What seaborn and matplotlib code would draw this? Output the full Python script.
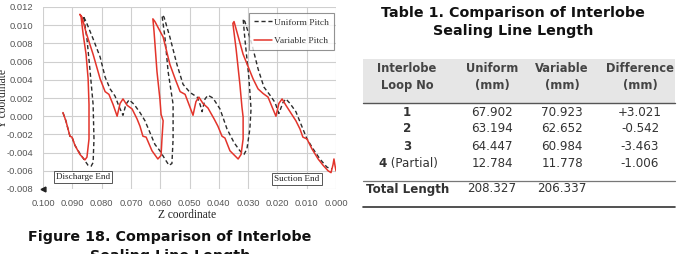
import numpy as np
import pandas as pd
import matplotlib
matplotlib.use("Agg")
import matplotlib.pyplot as plt
import seaborn as sns
from matplotlib.patches import Rectangle
from matplotlib.lines import Line2D

# ---------------- data ----------------
variable_z = [0.0932,0.0922,0.0908,0.0901,0.0891,0.0874,0.0857,0.0850,0.0843,0.0843,
              0.0846,0.0853,0.0863,0.0870,0.0874,0.0867,0.0853,0.0829,0.0805,0.0788,
              0.0775,0.0761,0.0747,0.0737,0.0727,0.0713,0.0696,0.0679,0.0669,
              0.0659,0.0648,0.0628,0.0608,0.0597,0.0594,0.0590,0.0597,0.0601,0.0611,
              0.0621,0.0625,0.0618,0.0590,0.0567,0.0549,0.0532,0.0515,0.0502,0.0488,
              0.0478,0.0468,0.0454,0.0437,0.0416,0.0403,
              0.0389,0.0379,0.0362,0.0334,0.0324,0.0317,0.0317,0.0321,0.0328,0.0341,
              0.0352,0.0348,0.0317,0.0283,0.0266,0.0249,0.0232,0.0218,0.0205,0.0195,
              0.0184,0.0171,0.0157,0.0137,0.0123,0.0113,0.0099,0.0082,0.0061,0.0044,
              0.0027,0.0017,0.0010,0.0007,0.0003,0.0000]
variable_y = [0.0004,-0.0005,-0.0022,-0.0023,-0.0032,-0.0042,-0.0048,-0.0045,-0.0025,0.0013,
              0.0041,0.0068,0.0090,0.0109,0.0112,0.0109,0.0092,0.0068,0.0041,0.0027,
              0.0024,0.0013,0.0000,0.0014,0.0019,0.0012,0.0008,-0.0003,-0.0011,
              -0.0022,-0.0023,-0.0038,-0.0047,-0.0043,-0.0025,-0.0005,0.0002,0.0019,0.0049,
              0.0093,0.0107,0.0104,0.0087,0.0057,0.0041,0.0027,0.0024,0.0013,0.0001,
              0.0016,0.0021,0.0014,0.0009,-0.0003,-0.0011,
              -0.0022,-0.0024,-0.0038,-0.0047,-0.0042,-0.0025,-0.0001,0.0010,0.0035,0.0074,
              0.0102,0.0104,0.0068,0.0041,0.0030,0.0025,0.0021,0.0010,0.0000,0.0014,
              0.0019,0.0012,0.0005,-0.0005,-0.0014,-0.0023,-0.0025,-0.0036,-0.0047,-0.0054,
              -0.0060,-0.0062,-0.0053,-0.0047,-0.0055,-0.0060]

uniform_z = [0.0932,0.0922,0.0908,0.0901,0.0891,0.0874,0.0857,0.0846,0.0836,0.0829,
             0.0826,0.0829,0.0840,0.0850,0.0860,0.0863,0.0853,0.0829,0.0805,0.0788,
             0.0771,0.0754,0.0741,0.0727,0.0717,0.0706,0.0689,0.0669,0.0652,0.0635,
             0.0618,0.0601,0.0584,0.0570,0.0560,0.0556,0.0556,0.0573,0.0584,0.0594,
             0.0587,0.0567,0.0543,0.0522,0.0498,0.0474,0.0464,0.0457,0.0447,0.0437,
             0.0420,0.0396,0.0372,0.0348,0.0328,0.0314,0.0304,0.0294,0.0290,0.0297,
             0.0311,0.0317,0.0311,0.0287,0.0266,0.0246,0.0225,0.0208,0.0195,0.0181,
             0.0171,0.0157,0.0137,0.0113,0.0099,0.0078,0.0055,0.0031,0.0014]
uniform_y = [0.0004,-0.0005,-0.0022,-0.0023,-0.0032,-0.0041,-0.0049,-0.0054,-0.0055,-0.0051,
             -0.0025,0.0013,0.0052,0.0085,0.0107,0.0110,0.0104,0.0085,0.0065,0.0043,
             0.0030,0.0022,0.0011,0.0001,0.0013,0.0018,0.0013,0.0004,-0.0005,-0.0018,
             -0.0031,-0.0038,-0.0047,-0.0054,-0.0052,-0.0025,0.0013,0.0049,0.0087,0.0111,
             0.0109,0.0087,0.0057,0.0035,0.0026,0.0021,0.0013,0.0005,0.0019,0.0023,
             0.0020,0.0008,-0.0014,-0.0029,-0.0038,-0.0042,-0.0036,-0.0014,0.0008,0.0041,
             0.0085,0.0107,0.0104,0.0079,0.0052,0.0032,0.0023,0.0015,0.0003,0.0015,
             0.0019,0.0014,0.0005,-0.0014,-0.0025,-0.0036,-0.0047,-0.0056,-0.0058]

x_ticks = [0.100, 0.090, 0.080, 0.070, 0.060, 0.050, 0.040, 0.030, 0.020, 0.010, 0.000]
y_ticks = [-0.008, -0.006, -0.004, -0.002, 0.000, 0.002, 0.004, 0.006, 0.008, 0.010, 0.012]

table_header = [["Interlobe", "Loop No"], ["Uniform", "(mm)"], ["Variable", "(mm)"], ["Difference", "(mm)"]]
loop_no = ["1", "2", "3", "4"]
loop_note = ["", "", "", " (Partial)"]
uniform_len = ["67.902", "63.194", "64.447", "12.784"]
variable_len = ["70.923", "62.652", "60.984", "11.778"]
difference = ["+3.021", "-0.542", "-3.463", "-1.006"]
total_row = ["Total Length", "208.327", "206.337"]

# ---------------- figure ----------------
sns.set_theme(style="white")
W, H = 680, 254
fig = plt.figure(figsize=(W / 100, H / 100), dpi=100)

def fx(px):
    return px / W

def fy(py):
    return 1 - py / H

ax = fig.add_axes([fx(43), fy(189), fx(336) - fx(43), fy(7) - fy(189)])

df_u = pd.DataFrame({"z": uniform_z, "y": uniform_y})
df_v = pd.DataFrame({"z": variable_z, "y": variable_y})
sns.lineplot(data=df_u, x="z", y="y", sort=False, estimator=None, ax=ax,
             color="#2b2b2b", lw=1.0, label="Uniform Pitch")
ax.lines[-1].set_dashes([3, 2])
sns.lineplot(data=df_v, x="z", y="y", sort=False, estimator=None, ax=ax,
             color="#e3342b", lw=1.1, label="Variable Pitch")

ax.set_xlim(0.100, 0.000)
ax.set_ylim(-0.008, 0.012)
ax.set_xticks(x_ticks)
ax.set_yticks(y_ticks)
ax.set_xticklabels([f"{v:.3f}" for v in x_ticks])
ax.set_yticklabels([f"{v:.3f}" for v in y_ticks])
ax.tick_params(axis="both", labelsize=6.7, colors="#555555", length=0, pad=7)
for lab in ax.get_xticklabels() + ax.get_yticklabels():
    lab.set_family("Liberation Sans")
ax.grid(True, color="#cfcfcf", lw=0.8)
for s in ax.spines.values():
    s.set_visible(False)
ax.set_xlabel("")
ax.set_ylabel("")
ax.plot([0], [0], transform=ax.transAxes, marker="<", ms=3.5, color="#222222", clip_on=False)

leg = ax.legend(loc="upper right", bbox_to_anchor=(0.9995, 0.975), frameon=True, fancybox=False,
                prop={"family": "Liberation Serif", "size": 6.8}, handlelength=2.0,
                handletextpad=0.2, borderpad=0.5, labelspacing=1.0, borderaxespad=0.2)
leg.get_frame().set_edgecolor("#777777")
leg.get_frame().set_linewidth(0.8)
for t in leg.get_texts():
    t.set_color("#333333")

box = dict(boxstyle="square,pad=0.25", fc="white", ec="#555555", lw=0.7)
ax.text(0.0863, -0.0067, "Discharge End", ha="center", va="center", fontsize=6.6,
        family="Liberation Serif", color="#222222", bbox=box)
ax.text(0.0133, -0.0069, "Suction End", ha="center", va="center", fontsize=6.6,
        family="Liberation Serif", color="#222222", bbox=box)

fig.text(fx(187), fy(215), "Z coordinate", ha="center", va="center", fontsize=8.3,
         family="Liberation Serif", color="#222222")
fig.text(fx(3), fy(98), "Y coordinate", ha="center", va="center", rotation=90, fontsize=8.3,
         family="Liberation Serif", color="#222222")

# caption (second line partly below the image edge, as in the source)
fig.text(fx(170), fy(237), "Figure 18. Comparison of Interlobe", ha="center", va="center",
         fontsize=10.3, weight="bold", family="DejaVu Sans", color="#111111")
fig.text(fx(170), fy(256), "Sealing Line Length", ha="center", va="center",
         fontsize=10.3, weight="bold", family="DejaVu Sans", color="#111111")

# ---------------- table ----------------
fig.text(fx(513), fy(13), "Table 1. Comparison of Interlobe", ha="center", va="center",
         fontsize=10.3, weight="bold", family="DejaVu Sans", color="#111111")
fig.text(fx(513), fy(31), "Sealing Line Length", ha="center", va="center",
         fontsize=10.3, weight="bold", family="DejaVu Sans", color="#111111")

fig.patches.append(Rectangle((fx(363), fy(103)), fx(675) - fx(363), fy(59) - fy(103),
                             transform=fig.transFigure, fc="#e6e6e6", ec="none"))
for py, col, lw in [(103, "#555555", 1.0), (181, "#777777", 0.9), (207, "#333333", 1.2)]:
    fig.lines.append(Line2D([fx(363), fx(675)], [fy(py), fy(py)], transform=fig.transFigure,
                            color=col, lw=lw))

col_x = [407, 492, 562, 640]
for cx, (l1, l2) in zip(col_x, table_header):
    fig.text(fx(cx), fy(68), l1, ha="center", va="center", fontsize=8.3, weight="bold",
             family="DejaVu Sans", color="#444444")
    fig.text(fx(cx), fy(85.5), l2, ha="center", va="center", fontsize=8.3, weight="bold",
             family="DejaVu Sans", color="#444444")

row_y = [112, 129, 146.5, 163.5]
for ry, n, note, u, v, d in zip(row_y, loop_no, loop_note, uniform_len, variable_len, difference):
    if note:
        fig.text(fx(383), fy(ry), n, ha="center", va="center", fontsize=8.6,
                 weight="bold", family="DejaVu Sans", color="#333333")
        fig.text(fx(387), fy(ry), note, ha="left", va="center", fontsize=8.6,
                 family="DejaVu Sans", color="#333333")
    else:
        fig.text(fx(407), fy(ry), n, ha="center", va="center", fontsize=8.6, weight="bold",
                 family="DejaVu Sans", color="#333333")
    fig.text(fx(492), fy(ry), u, ha="center", va="center", fontsize=8.6,
             family="DejaVu Sans", color="#333333")
    fig.text(fx(562), fy(ry), v, ha="center", va="center", fontsize=8.6,
             family="DejaVu Sans", color="#333333")
    fig.text(fx(640), fy(ry), d, ha="center", va="center", fontsize=8.6,
             family="DejaVu Sans", color="#333333")

fig.text(fx(366), fy(189), total_row[0], ha="left", va="center", fontsize=8.6, weight="bold",
         family="DejaVu Sans", color="#333333")
fig.text(fx(492), fy(189), total_row[1], ha="center", va="center", fontsize=8.6,
         family="DejaVu Sans", color="#333333")
fig.text(fx(562), fy(189), total_row[2], ha="center", va="center", fontsize=8.6,
         family="DejaVu Sans", color="#333333")

fig.savefig("out.png", dpi=100)
